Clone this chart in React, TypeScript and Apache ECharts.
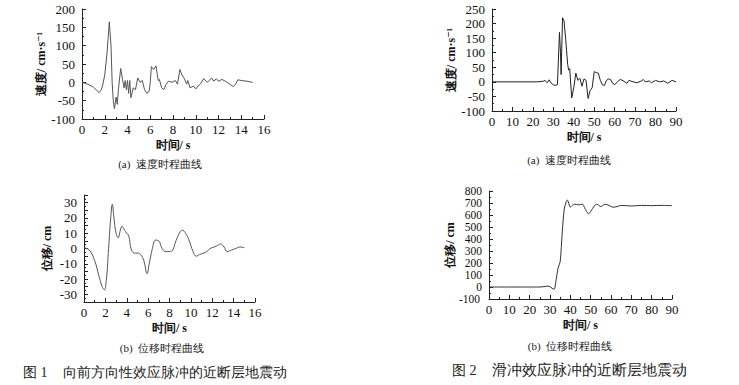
import React, { useEffect, useRef } from "react";
import * as echarts from "echarts";

// Panel (a) left: velocity, forward directivity pulse
const velA_t = [0, 0.5, 1, 1.4, 1.5, 1.7, 1.8, 2.0, 2.2, 2.4, 2.55, 2.65, 2.75, 2.85, 3.0, 3.1, 3.2, 3.4, 3.55, 3.7, 3.8, 3.9, 4.0, 4.1, 4.2, 4.3, 4.5, 4.7, 4.9, 5.1, 5.3, 5.5, 5.7, 5.9, 6.0, 6.1, 6.3, 6.5, 6.7, 6.8, 7.0, 7.2, 7.4, 7.6, 7.9, 8.2, 8.4, 8.6, 8.8, 9.0, 9.2, 9.3, 9.5, 9.8, 10.0, 10.2, 10.4, 10.7, 11.0, 11.2, 11.4, 11.6, 11.8, 12.0, 12.3, 12.6, 13.0, 13.3, 13.5, 13.7, 14.0, 14.5, 15.0];
const velA_v = [0, -5, -13, -25, -28, -20, -10, 20, 80, 165, 100, 0, -50, -72, -40, -60, -20, 38, 10, -15, 5, -20, 5, -30, 5, -42, -15, -20, 12, 0, 5, -20, -30, -25, 0, 43, 35, 45, 5, 8, -15, -20, -5, 3, 0, 5, -5, 35, 20, 10, -5, 5, -15, -10, -18, -10, -5, 10, 0, 5, 12, 3, 10, 3, 8, 3, -5, -12, -5, 7, 5, 3, 0];

// Panel (b) left: displacement, forward directivity pulse
const dispA_t = [0, 0.5, 1.0, 1.4, 1.7, 1.9, 2.1, 2.3, 2.5, 2.65, 2.8, 3.0, 3.2, 3.4, 3.55, 3.8, 4.0, 4.2, 4.4, 4.7, 5.0, 5.3, 5.6, 5.9, 6.1, 6.4, 6.7, 7.0, 7.3, 7.6, 8.0, 8.3, 8.6, 9.0, 9.2, 9.5, 9.8, 10.2, 10.5, 10.8, 11.2, 11.5, 11.8, 12.2, 12.5, 12.8, 13.1, 13.4, 13.8, 14.2, 14.6, 15.0];
const dispA_v = [0.5, -1, -8, -18, -25, -27, -20, 0, 20, 29, 20, 10, 7, 12, 14.5, 12, 10, 8, 0, -3, -3, -4, -8, -16.5, -10, 0, 5.5, 5, 0, -2, -2, -1, 5, 11, 12, 10, 6, -2, -5, -4, -3, -2, 0, 1, 2, 3, 1, -2, -1, 0, 1, 0.5];

// Panel (a) right: velocity, fling-step pulse
const velB_t = [0, 22, 25, 26, 27, 28, 29, 30, 31, 32, 33, 33.5, 33.8, 34.5, 35.2, 36, 37, 37.5, 38, 39, 40, 41, 42, 43, 44, 45, 46, 47, 48, 49, 50, 51, 52, 53, 54, 55, 56, 57, 58, 59, 60, 62, 63, 65, 66, 67, 69, 71, 73, 74, 75, 77, 78, 80, 82, 84, 86, 88, 90];
const velB_v = [0, 0, 2, 5, -3, 7, -5, -10, -12, -10, 170, 100, 25, 220, 210, 150, 60, 40, 45, -55, -20, 30, 5, 12, -15, 10, 5, -57, -30, -20, 35, 32, 30, 5, -10, -12, 5, 10, 8, -5, -10, 5, 8, 0, -5, 5, 0, -3, 3, 8, 0, 3, -3, 5, 0, 3, -5, 5, 0];

// Panel (b) right: displacement, fling-step pulse
const dispB_t = [0, 25, 28, 29, 30, 31, 32, 33, 34, 35, 36, 37, 38, 38.5, 39, 40, 41, 42, 44, 46, 47, 49, 50, 52, 53, 55, 57, 59, 61, 63, 65, 70, 75, 80, 85, 90];
const dispB_v = [0, 0, 5, 8, 2, -10, -20, 60, 160, 210, 450, 650, 710, 725, 710, 665, 680, 690, 685, 690, 660, 610, 630, 680, 690, 670, 690, 680, 665, 670, 680, 675, 680, 678, 680, 678];

const xLabel = "时间/ s";
const velName = "速度/ cm·s⁻¹";
const dispName = "位移/ cm";
const capA = "(a)  速度时程曲线";
const capB = "(b)  位移时程曲线";
const fig1No = "图 1";
const fig1 = "向前方向性效应脉冲的近断层地震动";
const fig2No = "图 2";
const fig2 = "滑冲效应脉冲的近断层地震动";
const dispBMin = -100;

const FONT = "Liberation Serif, DejaVu Serif, serif";
const AXIS_COLOR = "#222";

const zip = (t: number[], v: number[]) => t.map((x, i) => [x, v[i]]);

function xAxisCfg(gridIndex: number, max: number, interval: number, gap: number) {
  return {
    type: "value",
    gridIndex,
    min: 0,
    max,
    interval,
    name: xLabel,
    nameLocation: "middle",
    nameGap: gap,
    nameTextStyle: { fontFamily: FONT, fontSize: 12, color: "#111", fontWeight: "bold" },
    axisLine: { show: true, onZero: false, lineStyle: { color: AXIS_COLOR, width: 1 } },
    axisTick: { show: true, inside: true, length: 4, lineStyle: { color: AXIS_COLOR } },
    minorTick: { show: true, splitNumber: 2, length: 2, lineStyle: { color: AXIS_COLOR } },
    axisLabel: { fontFamily: FONT, fontSize: 13, color: "#111", margin: 4, showMinLabel: true, showMaxLabel: true },
    splitLine: { show: false },
  };
}

function yAxisCfg(gridIndex: number, min: number, max: number, interval: number, name: string, gap: number, fontSize: number, fmt?: (v: number) => string) {
  return {
    type: "value",
    gridIndex,
    min,
    max,
    interval,
    name,
    nameLocation: "middle",
    nameGap: gap,
    nameTextStyle: { fontFamily: FONT, fontSize: 12, color: "#111", fontWeight: "bold" },
    axisLine: { show: true, onZero: false, lineStyle: { color: AXIS_COLOR, width: 1 } },
    axisTick: { show: true, inside: true, length: 4, lineStyle: { color: AXIS_COLOR } },
    minorTick: { show: true, splitNumber: 2, length: 2, lineStyle: { color: AXIS_COLOR } },
    axisLabel: {
      fontFamily: FONT, fontSize, lineHeight: fontSize, color: "#111", margin: 7, formatter: fmt,
      showMinLabel: true, showMaxLabel: true, hideOverlap: false,
    },
    splitLine: { show: false },
  };
}

function caption(text: string, x: number, y: number, size: number, align = "center") {
  return {
    type: "text",
    x,
    y,
    style: { text, fontFamily: FONT, fontSize: size, fill: "#222", align, verticalAlign: "middle" },
  };
}

export default function App() {
  const ref = useRef<HTMLDivElement>(null);
  useEffect(() => {
    if (!ref.current) return;
    const chart = echarts.init(ref.current, null, { renderer: "svg" });
    const lineSeries = (i: number, data: number[][], color: string, smooth: number | boolean) => ({
      type: "line",
      xAxisIndex: i,
      yAxisIndex: i,
      data,
      showSymbol: false,
      smooth,
      lineStyle: { color, width: 1 },
    });
    chart.setOption({
      animation: false,
      backgroundColor: "#fff",
      grid: [
        { left: 82, top: 9, width: 182, height: 110 },
        { left: 84, top: 195, width: 171, height: 107 },
        { left: 492, top: 9, width: 184, height: 102 },
        { left: 489, top: 191, width: 183, height: 108 },
      ],
      xAxis: [
        xAxisCfg(0, 16, 2, 20),
        xAxisCfg(1, 16, 2, 20),
        xAxisCfg(2, 90, 10, 20),
        xAxisCfg(3, 90, 10, 20),
      ],
      yAxis: [
        yAxisCfg(0, -100, 200, 50, velName, 34, 13),
        yAxisCfg(1, -35, 35, 5, dispName, 31, 13, (v: number) => (v % 10 === 0 ? String(v) : "")),
        yAxisCfg(2, -100, 250, 50, velName, 33, 13),
        yAxisCfg(3, dispBMin, 800, 100, dispName, 33, 11.5, (v: number) => (v === dispBMin ? "" : String(v))),
      ],
      series: [
        lineSeries(0, zip(velA_t, velA_v), "#555", false),
        lineSeries(1, zip(dispA_t, dispA_v), "#555", 0.4),
        lineSeries(2, zip(velB_t, velB_v), "#222", false),
        lineSeries(3, zip(dispB_t, dispB_v), "#333", 0.3),
      ],
    });
    // the bottom label of the right displacement axis, placed through the axis scale
    const raw = chart.convertToPixel({ xAxisIndex: 3, yAxisIndex: 3 }, [0, dispBMin]) as number[];
    const ok = Array.isArray(raw) && isFinite(raw[0]) && isFinite(raw[1]);
    const px = ok ? raw[0] : 489;
    const py = ok ? raw[1] : 299;
    chart.setOption({
      graphic: [
        caption(capA, 160, 164, 11),
        caption(capB, 162, 348, 11),
        caption(fig1No, 23, 372, 14, "left"),
        caption(fig1, 63, 372, 14, "left"),
        caption(capA, 569, 160, 11),
        caption(capB, 570, 346, 11),
        caption(fig2No, 452, 370, 14, "left"),
        caption(fig2, 492, 370, 14.5, "left"),
        {
          type: "text",
          z: 100,
          left: px - 30,
          top: py - 6,
          style: { text: String(dispBMin), fontFamily: FONT, fontSize: 11.5, fill: "#111" },
        },
      ],
    });
    return () => chart.dispose();
  }, []);
  return <div ref={ref} style={{ position: "absolute", left: 0, top: 0, width: 739, height: 385 }} />;
}
